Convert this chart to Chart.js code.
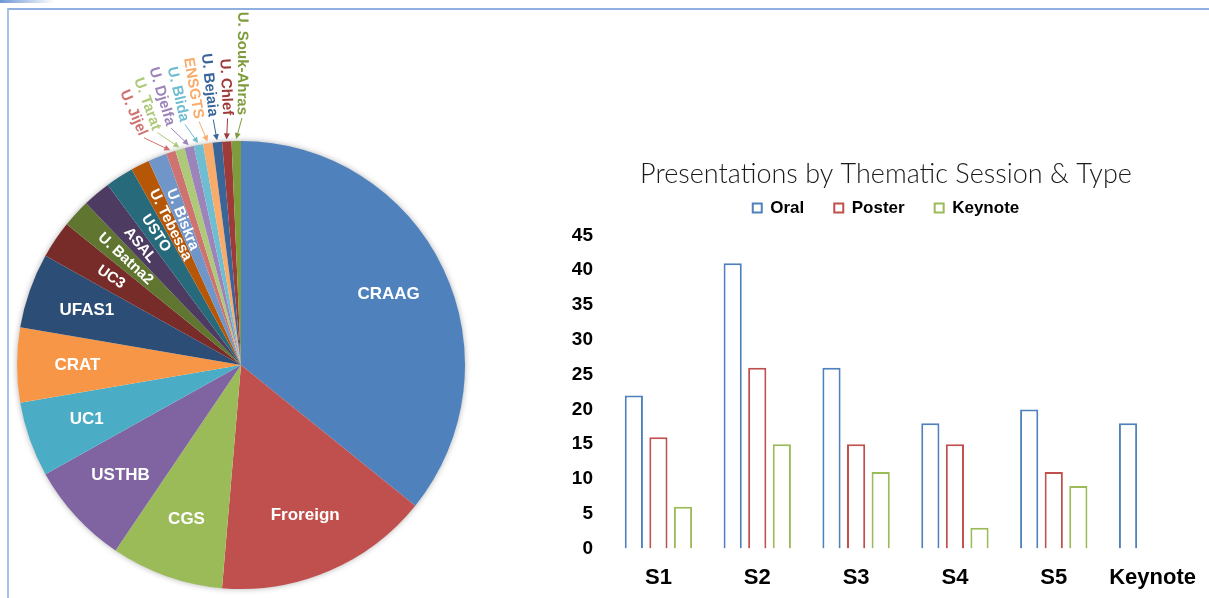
<!DOCTYPE html>
<html>
<head>
<meta charset="utf-8">
<script src="https://cdn.jsdelivr.net/npm/chart.js@4.4.1/dist/chart.umd.min.js"></script>
<style>
  html, body { margin:0; padding:0; background:#fff; overflow:hidden; }
  #wrap { position:relative; width:1209px; height:598px; overflow:hidden; }
  #frame { position:absolute; left:7px; top:8px; width:1210px; height:600px;
           border-top:2px solid #8fb0e0; border-left:2px solid #a9c1e8; }
  #corner { position:absolute; left:0; top:0; width:55px; height:3px;
            background:linear-gradient(to right, #6f97d6, rgba(111,151,214,0)); }
  #pie { position:absolute; left:0; top:0; }
  #bar { position:absolute; left:560px; top:150px; }
</style>
</head>
<body>
<div id="wrap">
  <div id="corner"></div>
  <div id="frame"></div>
  <canvas id="pie" width="490" height="598"></canvas>
  <canvas id="bar" width="652" height="465"></canvas>
</div>
<script>
// pie: affiliation of the authors
const pieLabels = ['CRAAG','Froreign','CGS','USTHB','UC1','CRAT','UFAS1','UC3','U. Batna2','ASAL','USTO',
  'U. Tebessa','U. Biskra','U. Jijel','U. Tarat','U. Djelfa','U. Blida','ENSGTS','U. Bejaia','U. Chlef','U. Souk-Ahras'];
const pieValues = [53,23,12,11,8,8,8,4,3,3,3,2,2,1,1,1,1,1,1,1,1];
const pieColors = ['#4F81BD','#C0504D','#9BBB59','#8064A2','#4BACC6','#F79646',
  '#2C4D75','#772C2A','#5F7530','#4D3B62','#276A7C','#B65708',
  '#7096C9','#CF7371','#AFC97A','#9C84BA','#6FBDD1','#F9AB6B',
  '#3A6599','#9E3B39','#7E9C3C'];

// bars: presentations by session
const sessions = ['S1','S2','S3','S4','S5','Keynote'];
const oral = [22,41,26,18,20,18];
const poster = [16,26,15,15,11,null];
const keynote = [6,15,11,3,9,null];
const yMax = 45, yStep = 5;

const ARIAL = '"Liberation Sans", Arial, sans-serif';

// soft shadow round the pie
const pieShadow = {
  id: 'pieShadow',
  beforeDatasetsDraw(chart) {
    const a = chart.getDatasetMeta(0).data[0];
    if (!a) return;
    const ctx = chart.ctx;
    ctx.save();
    ctx.shadowColor = 'rgba(0,0,0,0.35)';
    ctx.shadowBlur = 6;
    ctx.fillStyle = '#fff';
    ctx.beginPath(); ctx.arc(a.x, a.y, a.outerRadius - 0.5, 0, Math.PI * 2); ctx.fill();
    ctx.restore();
  }
};

// labels inside the slices, thin ones outside with arrows
const pieLabelPlugin = {
  id: 'pieLabels',
  afterDatasetsDraw(chart) {
    const ctx = chart.ctx;
    const arcs = chart.getDatasetMeta(0).data;
    const thin = 0.06, narrow = 0.26;
    const outside = arcs.filter(a => a.endAngle - a.startAngle < thin);
    const gMid = outside.length ? (outside[0].startAngle + outside[outside.length-1].endAngle) / 2 : 0;

    arcs.forEach((arc, i) => {
      const p = arc.getProps(['x','y','startAngle','endAngle','outerRadius'], true);
      const span = p.endAngle - p.startAngle;
      const mid = (p.startAngle + p.endAngle) / 2;
      const text = chart.data.labels[i];
      const col = pieColors[i];
      ctx.save();
      ctx.textBaseline = 'middle';
      if (span < thin) {
        // fan the small ones out a little
        const la = gMid - 0.03 + (mid - gMid) * 1.37;
        const r0 = p.outerRadius + 26;
        ctx.translate(p.x + Math.cos(la) * r0, p.y + Math.sin(la) * r0);
        ctx.rotate(la + Math.PI);
        ctx.fillStyle = col;
        ctx.font = 'bold 15px ' + ARIAL;
        ctx.textAlign = 'right';
        ctx.fillText(text, 0, 0);
        ctx.restore();
        // arrow
        const sx = p.x + Math.cos(la) * (p.outerRadius + 23), sy = p.y + Math.sin(la) * (p.outerRadius + 23);
        const ex = p.x + Math.cos(mid) * (p.outerRadius + 2), ey = p.y + Math.sin(mid) * (p.outerRadius + 2);
        const ang = Math.atan2(ey - sy, ex - sx);
        ctx.save();
        ctx.strokeStyle = col; ctx.fillStyle = col; ctx.lineWidth = 1;
        ctx.beginPath(); ctx.moveTo(sx, sy); ctx.lineTo(ex - Math.cos(ang)*4, ey - Math.sin(ang)*4); ctx.stroke();
        ctx.beginPath();
        ctx.moveTo(ex, ey);
        ctx.lineTo(ex - Math.cos(ang)*6 + Math.sin(ang)*3, ey - Math.sin(ang)*6 - Math.cos(ang)*3);
        ctx.lineTo(ex - Math.cos(ang)*6 - Math.sin(ang)*3, ey - Math.sin(ang)*6 + Math.cos(ang)*3);
        ctx.closePath(); ctx.fill();
        ctx.restore();
        return;
      }
      ctx.fillStyle = '#fff';
      ctx.textAlign = 'center';
      if (span < narrow) {
        const rr = p.outerRadius * 0.7;
        ctx.translate(p.x + Math.cos(mid) * rr, p.y + Math.sin(mid) * rr);
        ctx.rotate(mid + Math.PI);
        ctx.font = 'bold 15px ' + ARIAL;
      } else {
        const rr = p.outerRadius * 0.73;
        ctx.translate(p.x + Math.cos(mid) * rr, p.y + Math.sin(mid) * rr);
        ctx.font = 'bold 17px ' + ARIAL;
      }
      ctx.fillText(text, 0, 0);
      ctx.restore();
    });
  }
};

new Chart(document.getElementById('pie'), {
  type: 'pie',
  data: { labels: pieLabels, datasets: [{ data: pieValues, backgroundColor: pieColors, borderWidth: 0 }] },
  options: {
    responsive: false, animation: false,
    layout: { padding: { left: 17, top: 141, right: 25, bottom: 9 } },
    plugins: { legend: { display: false }, tooltip: { enabled: false } }
  },
  plugins: [pieShadow, pieLabelPlugin]
});

// push the plot a bit under the legend
const legendGap = {
  id: 'legendGap',
  beforeInit(chart) {
    const fit = chart.legend.fit;
    chart.legend.fit = function () { fit.call(this); this.height += 9; };
  }
};

const boldFont = size => ({ family: ARIAL, size: size, weight: 'bold' });

new Chart(document.getElementById('bar'), {
  type: 'bar',
  data: {
    labels: sessions,
    datasets: [
      { label: 'Oral', data: oral, backgroundColor: '#fff', borderColor: '#4F81BD', borderWidth: 2 },
      { label: 'Poster', data: poster, backgroundColor: '#fff', borderColor: '#C0504D', borderWidth: 2 },
      { label: 'Keynote', data: keynote, backgroundColor: '#fff', borderColor: '#9BBB59', borderWidth: 2 }
    ]
  },
  options: {
    responsive: false, animation: false,
    layout: { padding: { left: 0, bottom: 8 } },
    datasets: { bar: { categoryPercentage: 0.746, barPercentage: 0.74 } },
    plugins: {
      title: { display: true, text: 'Presentations by Thematic Session & Type', color: '#1a1a1a',
               font: { family: 'Lato', size: 27, weight: '300' }, padding: { top: 8, bottom: -21 } },
      legend: { labels: { boxWidth: 9, boxHeight: 9, padding: 30, color: '#000', font: boldFont(17) } },
      tooltip: { enabled: false }
    },
    scales: {
      x: { grid: { display: false, drawTicks: false }, border: { display: false },
           ticks: { padding: 16, color: '#000', font: boldFont(22) } },
      y: { min: 0, max: yMax, grid: { display: false, drawTicks: false }, border: { display: false },
           ticks: { stepSize: yStep, padding: 16, color: '#000', font: boldFont(19) },
           afterFit(s) { s.width = 49; } }
    }
  },
  plugins: [legendGap]
});
</script>
</body>
</html>
